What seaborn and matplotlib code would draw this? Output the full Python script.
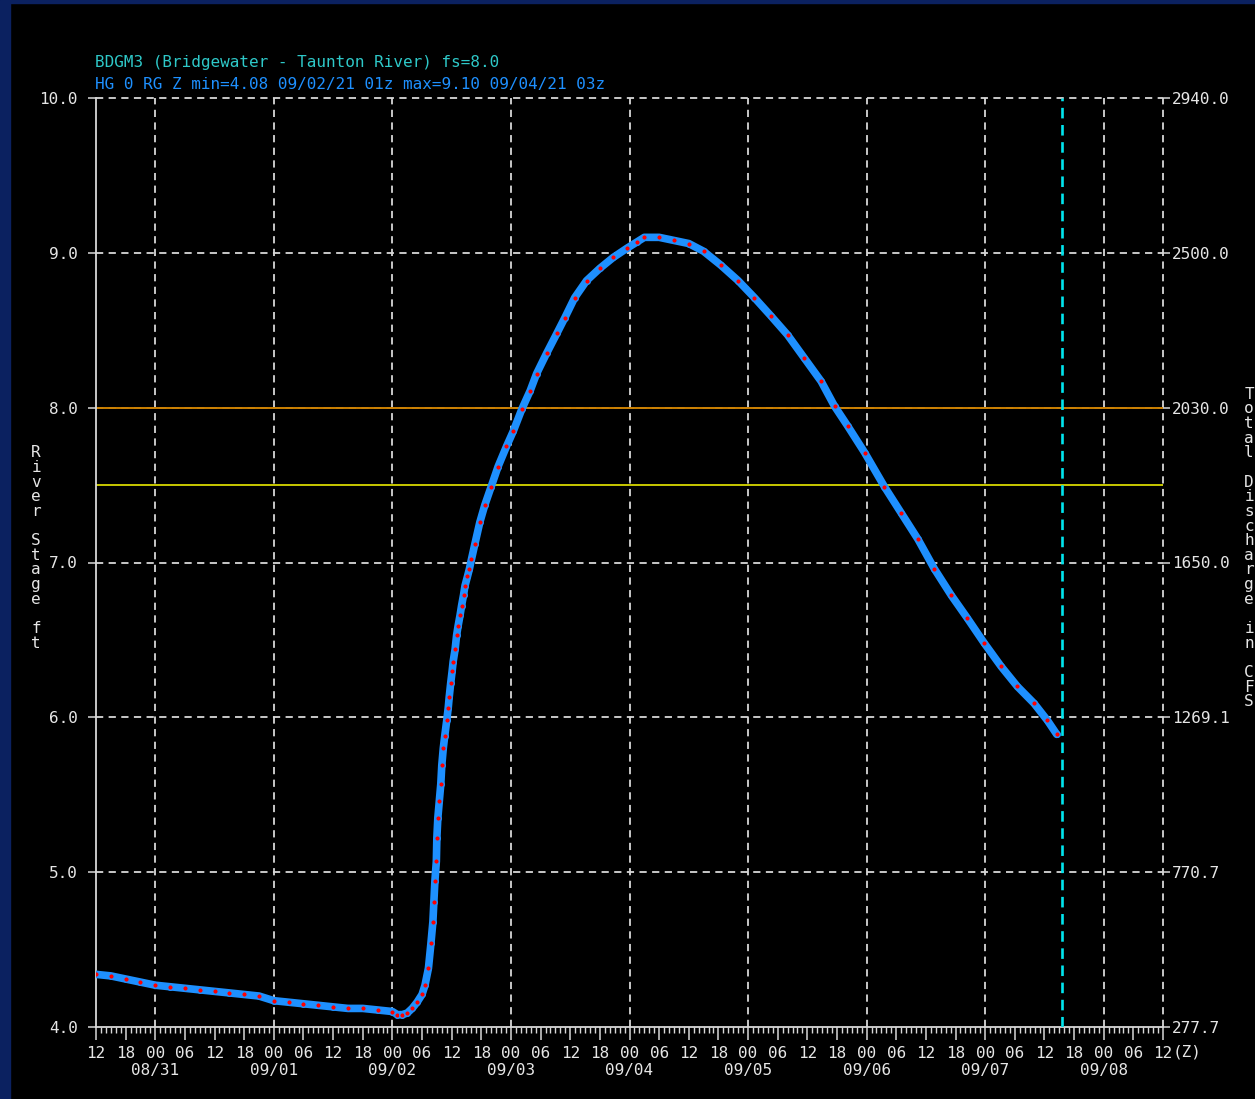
import numpy as np
import pandas as pd
import matplotlib
matplotlib.use("Agg")
import matplotlib.pyplot as plt
import seaborn as sns
from matplotlib.patches import Rectangle
from matplotlib.ticker import FixedLocator

# data (hours after 2021-08-30 12z, stage in ft)
start = pd.Timestamp("2021-08-30 12:00")
hours = [0, 3, 6, 9, 12, 15, 18, 21, 24, 27, 30, 33, 36, 39, 42, 45, 48, 51, 54, 57,
         60, 61, 62, 63, 64, 65, 66, 66.6, 67.3, 67.8, 68.2, 68.4, 68.6, 68.9, 69.0,
         69.2, 69.5, 69.8, 70.0, 70.3, 70.6, 71.0, 71.3, 71.5, 71.8, 72.1, 72.3, 72.7,
         73.0, 73.3, 73.7, 74.0, 74.4, 74.7, 75.2, 75.6, 76.0, 76.7, 77.7, 78.7, 80.0,
         81.4, 83.1, 84.5, 86.2, 87.9, 89.2, 91.2, 93.3, 94.9, 96.9, 99.3, 102.0, 104.7,
         107.5, 109.5, 111, 114, 117, 120, 123, 126.5, 130, 133.3, 136.7, 140, 143.4,
         146.8, 149.5, 152.2, 155.6, 159.6, 163, 166.4, 169.7, 173.1, 176.4, 179.8,
         183.2, 186.5, 189.9, 192.6, 194.5]
stage = [4.34, 4.33, 4.31, 4.29, 4.27, 4.26, 4.25, 4.24, 4.23, 4.22, 4.21, 4.20, 4.17,
         4.16, 4.15, 4.14, 4.13, 4.12, 4.12, 4.11, 4.10, 4.08, 4.08, 4.09, 4.12, 4.16,
         4.21, 4.27, 4.38, 4.54, 4.68, 4.81, 4.94, 5.07, 5.22, 5.35, 5.46, 5.57, 5.69,
         5.80, 5.88, 5.98, 6.06, 6.13, 6.22, 6.30, 6.36, 6.44, 6.53, 6.59, 6.66, 6.72,
         6.79, 6.85, 6.91, 6.96, 7.02, 7.12, 7.26, 7.37, 7.49, 7.62, 7.75, 7.85, 7.99,
         8.11, 8.22, 8.35, 8.48, 8.58, 8.71, 8.82, 8.90, 8.97, 9.03, 9.07, 9.10, 9.10,
         9.08, 9.06, 9.01, 8.92, 8.82, 8.71, 8.59, 8.47, 8.32, 8.17, 8.01, 7.88, 7.71,
         7.49, 7.32, 7.15, 6.96, 6.79, 6.64, 6.48, 6.33, 6.20, 6.09, 5.98, 5.89]

stage_ticks = [4, 5, 6, 7, 8, 9, 10]
discharge = [277.7, 770.7, 1269.1, 1650.0, 2030.0, 2500.0, 2940.0]
flood_stage = 8.0
action_stage = 7.5
now_hour = 195.5
end_hour = 216

title1 = "BDGM3 (Bridgewater - Taunton River) fs=8.0"
title2 = "HG 0 RG Z min=4.08 09/02/21 01z max=9.10 09/04/21 03z"

blue = "#1E90FF"
grid_c = "#d8d8d8"
text_c = "#e6e6e6"
navy = "#0b2160"

sns.set_theme(style="ticks", rc={"axes.facecolor": "black", "figure.facecolor": "black"})
plt.rcParams["font.family"] = ["DejaVu Sans Mono"]
fs = 11.5

W, H = 1255, 1099
fig = plt.figure(figsize=(W / 100, H / 100), dpi=100, facecolor="black")
fig.patches.append(Rectangle((0, 0), 10 / W, 1, transform=fig.transFigure,
                             color=navy, zorder=0))
fig.patches.append(Rectangle((0, 1 - 3 / H), 1, 3 / H, transform=fig.transFigure,
                             color=navy, zorder=0))

ax = fig.add_axes([96 / W, (H - 1027) / H, (1163 - 96) / W, (1027 - 98) / H])
ax.set_facecolor("black")

# grid
for y in stage_ticks[1:]:
    ax.axhline(y, color=grid_c, lw=1.3, ls=(0, (4, 3)), zorder=1, clip_on=False)
day_hours = list(range(12, end_hour, 24)) + [end_hour]
for h in day_hours:
    ax.axvline(h, color=grid_c, lw=1.3, ls=(0, (4, 3)), zorder=1, clip_on=False)

ax.axhline(flood_stage, color="#cc8000", lw=1.4, zorder=2)
ax.axhline(action_stage, color="#c8c800", lw=1.4, zorder=2)
ax.axvline(now_hour, color="#00e5ee", lw=1.9, ls=(0, (4, 2.5)), zorder=3)

df = pd.DataFrame({"hours": hours, "stage": stage})
sns.lineplot(data=df, x="hours", y="stage", ax=ax, color=blue, lw=5.5,
             marker="o", markersize=4, markerfacecolor="red", markeredgecolor=blue,
             markeredgewidth=1, estimator=None, sort=False, zorder=5,
             solid_capstyle="round", solid_joinstyle="round")

ax.set_xlim(0, end_hour)
ax.set_ylim(4, 10)
ax.set_xlabel("")
ax.set_ylabel("")

for s in ["top", "right"]:
    ax.spines[s].set_visible(False)
for s in ["left", "bottom"]:
    ax.spines[s].set_color(grid_c)
    ax.spines[s].set_linewidth(1.3)

# x ticks: hourly minor, 6-hourly labelled, dates under 00z
major = list(range(0, end_hour + 1, 6))
ax.xaxis.set_major_locator(FixedLocator(major))
ax.set_xticklabels([(start + pd.Timedelta(hours=h)).strftime("%H") for h in major])
ax.xaxis.set_minor_locator(FixedLocator(list(range(0, end_hour + 1))))
ax.tick_params(axis="x", which="major", length=9, width=1.1, color=grid_c,
               pad=5, labelsize=fs, labelcolor=text_c, direction="out")
ax.tick_params(axis="x", which="minor", length=4.5, width=1, color=grid_c,
               direction="out")
for h in day_hours[:-1]:
    ax.text(h, -(1071 - 1027) / 929, (start + pd.Timedelta(hours=h)).strftime("%m/%d"),
            transform=ax.get_xaxis_transform(), ha="center", va="center",
            fontsize=fs, color=text_c)

ax.set_yticks(stage_ticks)
ax.set_yticklabels([f"{v:.1f}" for v in stage_ticks])
ax.tick_params(axis="y", which="major", length=6, width=1.1, color=grid_c,
               pad=7, labelsize=fs, labelcolor=text_c, direction="out")

ax2 = ax.twinx()
ax2.set_ylim(4, 10)
ax2.set_yticks(stage_ticks)
ax2.set_yticklabels([f"{d:.1f}" for d in discharge])
ax2.tick_params(axis="y", length=5, width=1.1, color=grid_c, pad=1.5,
                labelsize=fs, labelcolor=text_c)
ax2.patch.set_visible(False)
for s in ax2.spines.values():
    s.set_visible(False)

fig.text(1173 / W, 1 - 1052 / H, "(Z)", ha="left", va="center", fontsize=fs,
         color=text_c)

fig.text(36 / W, 1 - 548 / H, "\n".join("River Stage ft"), ha="center",
         va="center", fontsize=fs, color=text_c, linespacing=0.97)
fig.text(1249 / W, 1 - 548 / H, "\n".join("Total Discharge in CFS"), ha="center",
         va="center", fontsize=fs, color=text_c, linespacing=0.97)

fig.text(95 / W, 1 - 62 / H, title1, ha="left", va="center", fontsize=fs,
         color="#2ec8c8")
fig.text(95 / W, 1 - 84 / H, title2, ha="left", va="center", fontsize=fs,
         color="#1e90ff")

fig.savefig("out.png", dpi=100, facecolor=fig.get_facecolor())
